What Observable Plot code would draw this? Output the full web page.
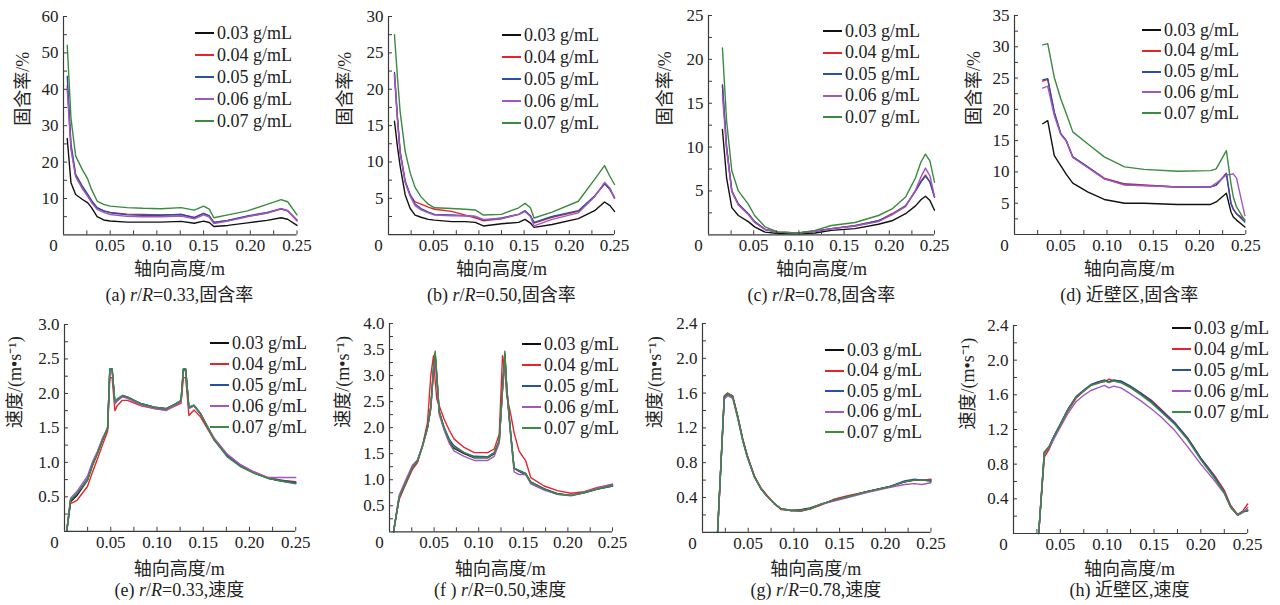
<!DOCTYPE html>
<html><head><meta charset="utf-8">
<script src="https://cdn.jsdelivr.net/npm/d3@7"></script>
<script src="https://cdn.jsdelivr.net/npm/@observablehq/plot@0.6"></script>
<style>
html,body{margin:0;padding:0;background:#fff}
body{width:1280px;height:605px;position:relative;overflow:hidden;font-family:'Liberation Serif','Noto Sans CJK SC',serif;color:#222}
.pn{position:absolute}
.lg{position:absolute}
.lg div{display:flex;align-items:center;font-size:18px;white-space:nowrap}
.lg span.sw{display:inline-block;width:19px;height:2px;margin-right:3px}
.ttl{position:absolute;transform:translate(-50%,-50%);font-size:18px;white-space:nowrap}
</style></head><body>
<script>
// ---- series (concentrations) ----
const concs = ["0.03 g/mL","0.04 g/mL","0.05 g/mL","0.06 g/mL","0.07 g/mL"];
const colors = ["#111111","#e8232b","#2a4fa8","#a257c0","#3a8a3f"];
const xTickLabels = [0.05,0.10,0.15,0.20,0.25];
const xMinorTicks = [0.025,0.05,0.075,0.10,0.125,0.15,0.175,0.20,0.225,0.25];

// ---- (a) r/R=0.33 solid holdup ----
const xA = [0.004,0.008,0.013,0.020,0.026,0.030,0.036,0.043,0.050,0.068,0.085,0.104,0.126,0.140,0.150,0.156,0.161,0.176,0.197,0.218,0.233,0.240,0.250];
const a03 = [26.5,14.3,11.1,9.8,8.8,7.5,5.0,4.1,3.8,3.5,3.5,3.5,3.7,3.2,3.8,3.4,2.3,2.6,3.3,4.0,4.7,4.3,2.6];
const a04 = [41.0,24.0,16.2,13.2,10.9,9.2,7.4,6.6,6.2,5.7,5.6,5.5,5.6,4.8,5.9,5.2,3.4,4.0,5.1,6.0,7.1,6.6,4.1];
const a05 = [43.6,25.0,16.6,13.5,11.1,9.5,7.5,6.6,6.1,5.5,5.4,5.4,5.6,4.7,5.9,5.2,3.4,4.0,5.2,6.2,7.2,6.6,4.0];
const a06 = [40.0,23.5,16.0,12.8,10.5,8.9,7.0,6.2,5.6,5.1,5.0,5.0,5.2,4.4,5.5,4.9,3.1,3.8,5.0,6.0,7.2,6.7,3.8];
const a07 = [52.1,32.0,21.7,18.0,15.3,12.5,9.3,8.4,7.9,7.5,7.3,7.2,7.5,6.8,7.9,7.1,4.7,5.5,6.6,8.4,9.7,9.1,5.5];
const yTicksA = [10,20,30,40,50,60];
const yMinorA = [5,10,15,20,25,30,35,40,45,50,55,60];

// ---- (b) r/R=0.50 solid holdup ----
const xB = [0.0066,0.010,0.0128,0.0184,0.024,0.0294,0.036,0.044,0.051,0.070,0.085,0.096,0.105,0.125,0.144,0.151,0.157,0.161,0.181,0.210,0.228,0.239,0.245,0.250];
const b03 = [15.6,12.0,9.5,5.5,3.6,2.7,2.4,2.1,2.0,1.8,1.8,1.7,1.2,1.5,1.7,2.1,1.6,1.0,1.4,2.2,3.3,4.5,4.0,3.2];
const b04 = [22.0,15.8,11.4,7.3,5.4,4.5,4.2,3.8,3.5,3.2,2.7,2.3,1.9,2.2,2.8,3.2,2.6,1.6,2.4,3.2,5.3,7.0,6.3,5.0];
const b05 = [22.3,16.0,11.5,7.4,5.5,4.2,3.6,3.1,2.8,2.7,2.6,2.5,2.0,2.3,2.8,3.3,2.6,1.7,2.5,3.3,5.3,7.0,6.2,5.1];
const b06 = [22.0,15.7,11.3,7.2,5.3,4.0,3.4,3.0,2.7,2.6,2.6,2.5,2.1,2.2,2.8,3.2,2.5,1.2,2.1,3.0,5.2,7.2,6.4,5.0];
const b07 = [27.5,21.5,17.0,11.5,8.5,6.5,5.2,4.2,3.7,3.6,3.5,3.4,2.7,2.8,3.7,4.3,3.7,2.3,3.1,4.6,7.6,9.5,8.0,6.9];
const yTicksB = [5,10,15,20,25,30];
const yMinorB = [2.5,5,7.5,10,12.5,15,17.5,20,22.5,25,27.5,30];

// ---- (c) r/R=0.78 solid holdup ----
const xC = [0.0154,0.020,0.0258,0.033,0.044,0.051,0.0626,0.077,0.0995,0.118,0.136,0.162,0.188,0.203,0.218,0.229,0.235,0.240,0.245,0.250];
const c03 = [12.0,6.5,3.1,2.2,1.5,0.9,0.3,0.15,0.1,0.2,0.5,0.7,1.2,1.6,2.4,3.3,4.0,4.4,3.9,2.8];
const c04 = [17.1,10.0,5.0,3.5,2.4,1.5,0.6,0.3,0.2,0.4,0.7,1.06,1.6,2.4,3.3,5.0,6.1,6.8,6.0,4.3];
const c05 = [17.0,10.0,5.0,3.5,2.4,1.5,0.6,0.3,0.2,0.4,0.7,1.0,1.6,2.3,3.3,5.0,6.0,6.7,6.0,4.3];
const c06 = [16.0,9.7,4.9,3.4,2.3,1.4,0.6,0.3,0.2,0.4,0.7,1.0,1.5,2.3,3.2,5.1,6.6,7.6,6.7,4.4];
const c07 = [21.3,13.0,7.3,5.0,3.5,2.2,0.9,0.3,0.2,0.5,1.06,1.4,2.2,2.95,4.3,6.5,8.3,9.2,8.4,6.0];
const yTicksC = [5,10,15,20,25];
const yMinorC = [2.5,5,7.5,10,12.5,15,17.5,20,22.5,25];

// ---- (d) near wall solid holdup ----
const xD = [0.0305,0.0359,0.043,0.050,0.056,0.063,0.079,0.097,0.119,0.140,0.176,0.212,0.218,0.229,0.234,0.2365,0.240,0.249];
const d03 = [17.7,18.2,12.6,11.0,9.6,8.2,6.8,5.6,5.0,5.0,4.8,4.8,5.2,6.6,3.6,2.8,2.3,1.2];
const d04 = [24.5,24.8,19.5,16.1,15.0,12.4,10.8,9.0,8.1,7.9,7.6,7.6,7.9,9.8,5.0,4.1,3.3,2.4];
const d05 = [24.7,24.9,19.5,16.1,15.0,12.4,10.8,8.9,8.0,7.85,7.6,7.6,7.9,9.7,4.9,4.0,3.3,2.0];
const d06 = [23.4,23.7,19.0,16.0,14.9,12.3,10.7,8.9,7.9,7.8,7.6,7.6,8.2,9.5,9.6,9.7,9.0,3.0];
const d07 = [30.3,30.5,25.1,21.7,19.3,16.4,14.5,12.4,10.8,10.4,10.1,10.2,10.5,13.4,8.1,6.0,4.4,2.2];
const yTicksD = [5,10,15,20,25,30,35];
const yMinorD = [2.5,5,7.5,10,12.5,15,17.5,20,22.5,25,27.5,30,32.5,35];

// ---- (e) r/R=0.33 velocity ----
const xE = [0.0024,0.0065,0.0135,0.0248,0.030,0.0356,0.041,0.0466,0.049,0.0515,0.0545,0.057,0.0626,0.068,0.083,0.097,0.110,0.120,0.126,0.1285,0.131,0.1345,0.140,0.147,0.162,0.176,0.190,0.205,0.220,0.234,0.250];
const e03 = [0,0.43,0.52,0.74,0.95,1.13,1.32,1.50,2.35,2.35,1.86,1.90,1.96,1.94,1.85,1.80,1.78,1.84,1.89,2.35,2.35,1.79,1.82,1.70,1.33,1.09,0.95,0.85,0.77,0.73,0.70];
const e04 = [0,0.40,0.45,0.65,0.85,1.05,1.25,1.45,2.23,2.23,1.75,1.82,1.90,1.90,1.82,1.78,1.76,1.82,1.86,2.23,2.23,1.68,1.76,1.66,1.32,1.10,0.96,0.86,0.78,0.74,0.72];
const e05 = [0,0.45,0.55,0.76,0.96,1.14,1.33,1.50,2.35,2.35,1.87,1.91,1.97,1.95,1.85,1.80,1.78,1.85,1.90,2.35,2.35,1.80,1.83,1.71,1.33,1.09,0.95,0.85,0.77,0.74,0.71];
const e06 = [0,0.48,0.58,0.80,1.00,1.16,1.35,1.50,2.33,2.33,1.85,1.89,1.95,1.93,1.83,1.78,1.75,1.83,1.88,2.33,2.33,1.78,1.82,1.70,1.35,1.12,0.97,0.86,0.78,0.78,0.78];
const e07 = [0,0.45,0.55,0.74,0.94,1.13,1.32,1.49,2.36,2.36,1.88,1.92,1.97,1.95,1.85,1.80,1.78,1.85,1.90,2.36,2.36,1.80,1.83,1.71,1.32,1.08,0.94,0.84,0.77,0.73,0.69];
const yTicksE = [0.5,1.0,1.5,2.0,2.5,3.0];
const yMinorE = [0.25,0.5,0.75,1.0,1.25,1.5,1.75,2.0,2.25,2.5,2.75,3.0];

// ---- (f) r/R=0.50 velocity ----
const xF = [0.0045,0.0108,0.0183,0.0258,0.0314,0.037,0.0426,0.0463,0.0493,0.0512,0.053,0.0557,0.0613,0.067,0.0725,0.0837,0.095,0.110,0.1174,0.123,0.1267,0.1293,0.1315,0.136,0.1397,0.1453,0.1528,0.1584,0.1734,0.1883,0.2033,0.2182,0.2332,0.250];
const f03 = [0,0.66,0.95,1.23,1.36,1.65,2.0,2.39,3.1,3.42,3.0,2.30,1.98,1.73,1.60,1.50,1.42,1.42,1.50,1.73,2.75,3.42,2.75,1.85,1.22,1.16,1.10,0.95,0.82,0.73,0.70,0.75,0.82,0.88];
const f04 = [0,0.62,0.92,1.20,1.33,1.65,2.10,3.0,3.38,2.9,2.55,2.42,2.16,1.95,1.78,1.62,1.52,1.52,1.59,1.87,3.38,3.1,2.6,2.25,1.9,1.55,1.36,1.04,0.88,0.79,0.74,0.77,0.85,0.91];
const f05 = [0,0.66,0.95,1.25,1.38,1.66,2.0,2.4,3.12,3.4,3.0,2.30,2.0,1.78,1.65,1.52,1.45,1.44,1.52,1.74,2.75,3.4,2.75,1.85,1.22,1.18,1.12,0.96,0.83,0.73,0.70,0.76,0.83,0.89];
const f06 = [0,0.70,1.0,1.28,1.38,1.63,1.98,2.35,3.05,3.35,2.95,2.25,1.95,1.70,1.55,1.45,1.37,1.37,1.45,1.70,2.7,3.35,2.7,1.80,1.15,1.10,1.10,0.92,0.80,0.72,0.70,0.76,0.84,0.92];
const f07 = [0,0.66,0.95,1.23,1.36,1.65,2.0,2.39,3.15,3.47,3.03,2.32,2.0,1.75,1.62,1.52,1.43,1.43,1.52,1.75,2.77,3.47,2.77,1.87,1.23,1.17,1.11,0.95,0.82,0.72,0.69,0.75,0.82,0.88];
const yTicksF = [0.5,1.0,1.5,2.0,2.5,3.0,3.5,4.0];
const yMinorF = [0.25,0.5,0.75,1.0,1.25,1.5,1.75,2.0,2.25,2.5,2.75,3.0,3.25,3.5,3.75,4.0];

// ---- (g) r/R=0.78 velocity ----
const xG = [0.0165,0.0238,0.0274,0.033,0.0384,0.044,0.049,0.0566,0.064,0.071,0.0785,0.086,0.097,0.1076,0.118,0.129,0.144,0.159,0.181,0.203,0.221,0.232,0.240,0.250];
const g03 = [0,1.55,1.59,1.56,1.34,1.07,0.88,0.65,0.50,0.41,0.33,0.27,0.25,0.26,0.28,0.32,0.37,0.41,0.47,0.52,0.58,0.60,0.60,0.59];
const g04 = [0,1.57,1.60,1.57,1.34,1.07,0.88,0.65,0.51,0.42,0.33,0.26,0.25,0.24,0.27,0.31,0.38,0.42,0.47,0.52,0.58,0.60,0.60,0.61];
const g05 = [0,1.55,1.59,1.56,1.33,1.06,0.87,0.64,0.50,0.41,0.33,0.27,0.25,0.25,0.27,0.32,0.37,0.41,0.47,0.52,0.59,0.61,0.60,0.60];
const g06 = [0,1.53,1.57,1.54,1.31,1.05,0.86,0.64,0.50,0.41,0.33,0.27,0.25,0.25,0.27,0.32,0.36,0.40,0.46,0.51,0.55,0.56,0.55,0.57];
const g07 = [0,1.56,1.60,1.56,1.33,1.06,0.87,0.64,0.50,0.41,0.33,0.27,0.25,0.25,0.27,0.32,0.37,0.41,0.47,0.52,0.58,0.60,0.60,0.60];
const yTicksG = [0.4,0.8,1.2,1.6,2.0,2.4];
const yMinorG = [0.2,0.4,0.6,0.8,1.0,1.2,1.4,1.6,1.8,2.0,2.2,2.4];

// ---- (h) near wall velocity ----
const xH = [0.0269,0.0329,0.038,0.0436,0.0507,0.0578,0.0667,0.0756,0.0827,0.0899,0.097,0.102,0.107,0.1147,0.125,0.136,0.147,0.157,0.172,0.186,0.200,0.2145,0.225,0.232,0.2394,0.2447,0.250];
const h03 = [0,0.94,1.0,1.13,1.27,1.42,1.57,1.65,1.71,1.74,1.77,1.75,1.77,1.75,1.69,1.61,1.52,1.42,1.27,1.09,0.86,0.65,0.48,0.30,0.21,0.25,0.27];
const h04 = [0,0.88,0.97,1.12,1.26,1.41,1.56,1.65,1.71,1.74,1.75,1.78,1.76,1.75,1.69,1.62,1.54,1.44,1.28,1.10,0.87,0.67,0.50,0.32,0.22,0.26,0.34];
const h05 = [0,0.92,1.0,1.13,1.28,1.43,1.58,1.66,1.72,1.75,1.77,1.75,1.77,1.76,1.70,1.62,1.53,1.43,1.28,1.10,0.87,0.66,0.48,0.31,0.21,0.25,0.26];
const h06 = [0,0.94,0.98,1.10,1.24,1.38,1.52,1.60,1.65,1.68,1.71,1.68,1.70,1.68,1.61,1.53,1.44,1.35,1.19,1.00,0.80,0.61,0.46,0.30,0.21,0.24,0.30];
const h07 = [0,0.92,1.0,1.13,1.27,1.42,1.57,1.65,1.71,1.73,1.76,1.74,1.76,1.74,1.68,1.60,1.51,1.41,1.26,1.08,0.85,0.64,0.47,0.30,0.22,0.25,0.27];
const yTicksH = yTicksG;
const yMinorH = yMinorG;

const labelHoldup = "固含率/%";
const labelVel = "速度/(m•s⁻¹)";
const labelX = "轴向高度/m";

// ---- layout (pixel frames) ----
const panels = [
  {x: xA, ys: [a03,a04,a05,a06,a07], ymax: 60, yt: yTicksA, ym: yMinorA, fmt: d3.format("d"), yl: labelHoldup, cap: "(a) <i>r</i>/<i>R</i>=0.33,固含率",
   f: [62.7,296.2,15.5,233.9], ylo: 40, lg: [195,33,22], xt: 267, ct: 293},
  {x: xB, ys: [b03,b04,b05,b06,b07], ymax: 30, yt: yTicksB, ym: yMinorB, fmt: d3.format("d"), yl: labelHoldup, cap: "(b) <i>r</i>/<i>R</i>=0.50,固含率",
   f: [388.4,614.4,15.7,233.9], ylo: 43, lg: [502,35,22], xt: 267, ct: 293},
  {x: xC, ys: [c03,c04,c05,c06,c07], ymax: 25, yt: yTicksC, ym: yMinorC, fmt: d3.format("d"), yl: labelHoldup, cap: "(c) <i>r</i>/<i>R</i>=0.78,固含率",
   f: [708.4,934.4,15.0,234.3], ylo: 43, lg: [823,31,21.5], xt: 267, ct: 293},
  {x: xD, ys: [d03,d04,d05,d06,d07], ymax: 35, yt: yTicksD, ym: yMinorD, fmt: d3.format("d"), yl: labelHoldup, cap: "(d) 近壁区,固含率",
   f: [1013.5,1244.8,15.3,234.3], ylo: 40, lg: [1142,30,20.8], xt: 267, ct: 293},
  {x: xE, ys: [e03,e04,e05,e06,e07], ymax: 3.0, yt: yTicksE, ym: yMinorE, fmt: d3.format(".1f"), yl: labelVel, cap: "(e) <i>r</i>/<i>R</i>=0.33,速度",
   f: [63.75,295.0,324.3,531.1], ylo: 49, lg: [210,343,21], xt: 567, ct: 588},
  {x: xF, ys: [f03,f04,f05,f06,f07], ymax: 4.0, yt: yTicksF, ym: yMinorF, fmt: d3.format(".1f"), yl: labelVel, cap: "(f ) <i>r</i>/<i>R</i>=0.50,速度",
   f: [388.7,611.7,322.7,531.0], ylo: 46, lg: [522,344,21], xt: 567, ct: 588},
  {x: xG, ys: [g03,g04,g05,g06,g07], ymax: 2.4, yt: yTicksG, ym: yMinorG, fmt: d3.format(".1f"), yl: labelVel, cap: "(g) <i>r</i>/<i>R</i>=0.78,速度",
   f: [701.6,930.1,323.3,532.1], ylo: 47, lg: [825,350,20.5], xt: 567, ct: 588},
  {x: xH, ys: [h03,h04,h05,h06,h07], ymax: 2.4, yt: yTicksH, ym: yMinorH, fmt: d3.format(".1f"), yl: labelVel, cap: "(h) 近壁区,速度",
   f: [1012.5,1246.7,325.0,533.0], ylo: 45, lg: [1172,328,21], xt: 567, ct: 588}
];

const ML = 62, MR = 14, MT = 12, MB = 32;
const axisColor = "#3a3a3a";
const fontFam = "'Liberation Serif','Noto Sans CJK SC',serif";

for (const p of panels) {
  const [x0, x1, yT, yB] = p.f;
  const innerW = x1 - x0, innerH = yB - yT;
  const rows = [];
  p.ys.forEach((ys, si) => ys.forEach((v, i) => rows.push({x: p.x[i], y: v, s: concs[si]})));
  const chart = Plot.plot({
    width: innerW + ML + MR,
    height: innerH + MT + MB,
    marginLeft: ML, marginRight: MR, marginTop: MT, marginBottom: MB,
    x: {domain: [0, 0.25]},
    y: {domain: [0, p.ymax]},
    color: {domain: concs, range: colors},
    style: {fontFamily: fontFam, fontSize: "17px", background: "transparent", color: "#222", overflow: "visible"},
    marks: [
      Plot.line(rows, {x: "x", y: "y", z: "s", stroke: "s", strokeWidth: 1.4}),
      Plot.tickX(xMinorTicks, {x: d => d, insetTop: innerH - 4, stroke: axisColor}),
      Plot.tickY(p.ym, {y: d => d, insetRight: innerW - 4, stroke: axisColor}),
      Plot.ruleX([0], {stroke: axisColor, strokeWidth: 1.2}),
      Plot.ruleY([0], {stroke: axisColor, strokeWidth: 1.2}),
      Plot.axisX({ticks: xTickLabels, tickSize: 0, tickPadding: 4.5, tickFormat: d3.format(".2f"), label: null}),
      Plot.axisX({ticks: [0], tickSize: 0, tickPadding: 4.5, tickFormat: () => "0", dx: -10, label: null}),
      Plot.axisY({ticks: p.yt, tickSize: 0, tickPadding: 5, tickFormat: p.fmt, label: null}),
      Plot.text([p.yl], {frameAnchor: "left", rotate: -90, dx: -p.ylo, text: d => d, fontSize: 18})
    ]
  });
  const wrap = document.createElement("div");
  wrap.className = "pn";
  wrap.style.left = (x0 - ML) + "px";
  wrap.style.top = (yT - MT) + "px";
  wrap.appendChild(chart);
  document.body.appendChild(wrap);

  const cx = (x0 + x1) / 2;
  const xt = document.createElement("div");
  xt.className = "ttl"; xt.style.left = cx + "px"; xt.style.top = p.xt + "px";
  xt.textContent = labelX;
  document.body.appendChild(xt);

  const cp = document.createElement("div");
  cp.className = "ttl"; cp.style.left = cx + "px"; cp.style.top = p.ct + "px";
  cp.innerHTML = p.cap;
  document.body.appendChild(cp);

  const [lx, ly, ls] = p.lg;
  const lg = document.createElement("div");
  lg.className = "lg";
  lg.style.left = lx + "px";
  lg.style.top = (ly - ls / 2) + "px";
  concs.forEach((c, i) => {
    const r = document.createElement("div");
    r.style.height = ls + "px";
    const sw = document.createElement("span");
    sw.className = "sw"; sw.style.background = colors[i];
    r.appendChild(sw);
    r.appendChild(document.createTextNode(c));
    lg.appendChild(r);
  });
  document.body.appendChild(lg);
}
</script>
</body></html>
